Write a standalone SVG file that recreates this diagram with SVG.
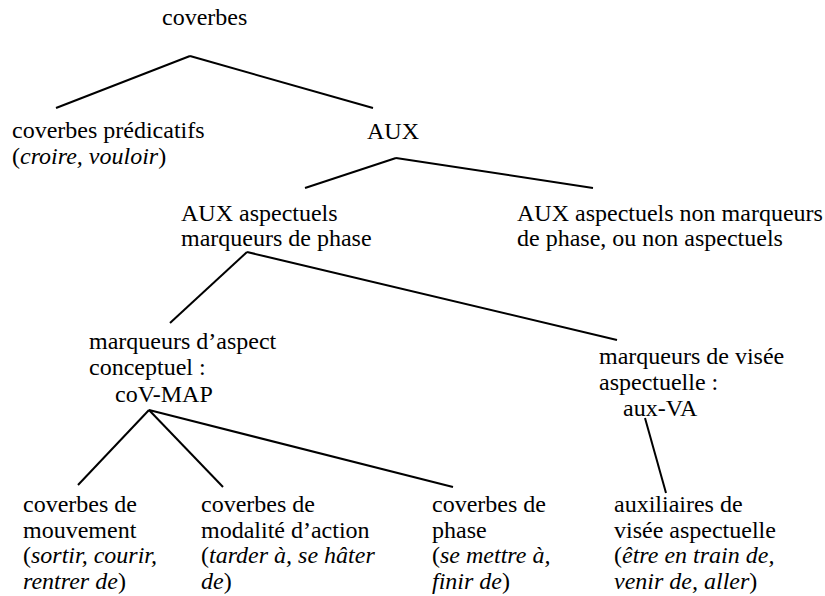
<svg xmlns="http://www.w3.org/2000/svg" width="825" height="596" viewBox="0 0 825 596" font-family="'Liberation Serif', 'Times New Roman', Times, serif">
<style>
text { font-family: "Liberation Serif", "Times New Roman", Times, serif; font-size: 24px; fill: #000; }
.i { font-style: italic; }
.edge { stroke: #000; stroke-width: 2; fill: none; }
</style>
<rect width="825" height="596" fill="#fff"/>
<g id="connectors">
<line class="edge" x1="190" y1="56" x2="56" y2="108"/>
<line class="edge" x1="190" y1="56" x2="373" y2="108"/>
<line class="edge" x1="396" y1="158" x2="305" y2="188"/>
<line class="edge" x1="396" y1="158" x2="593" y2="188"/>
<line class="edge" x1="247" y1="252" x2="170" y2="323"/>
<line class="edge" x1="247" y1="252" x2="617" y2="340"/>
<line class="edge" x1="149" y1="410" x2="78" y2="485"/>
<line class="edge" x1="149" y1="410" x2="223" y2="487"/>
<line class="edge" x1="149" y1="410" x2="453" y2="487"/>
<line class="edge" x1="645" y1="418" x2="666" y2="493"/>
</g>
<g id="n-coverbes"><text x="162" y="25">coverbes</text></g>
<g id="n-predicatifs">
<text x="12" y="138">coverbes prédicatifs</text>
<text x="12" y="164">(<tspan class="i">croire, vouloir</tspan>)</text>
</g>
<g id="n-aux"><text x="367" y="139">AUX</text></g>
<g id="n-aux-phase">
<text x="181" y="221">AUX aspectuels</text>
<text x="181" y="246">marqueurs de phase</text>
</g>
<g id="n-aux-nonphase">
<text x="517" y="221">AUX aspectuels non marqueurs</text>
<text x="517" y="246">de phase, ou non aspectuels</text>
</g>
<g id="n-covmap">
<text x="89" y="349">marqueurs d’aspect</text>
<text x="89" y="375">conceptuel :</text>
<text x="115" y="402">coV-MAP</text>
</g>
<g id="n-auxva">
<text x="599" y="364">marqueurs de visée</text>
<text x="599" y="390">aspectuelle :</text>
<text x="623" y="416">aux-VA</text>
</g>
<g id="n-mouvement">
<text x="23" y="512">coverbes de</text>
<text x="23" y="538">mouvement</text>
<text x="23" y="563">(<tspan class="i">sortir, courir,</tspan></text>
<text x="23" y="589"><tspan class="i">rentrer de</tspan>)</text>
</g>
<g id="n-modalite">
<text x="201" y="512">coverbes de</text>
<text x="201" y="538">modalité d’action</text>
<text x="201" y="563">(<tspan class="i">tarder à, se hâter</tspan></text>
<text x="201" y="589"><tspan class="i">de</tspan>)</text>
</g>
<g id="n-phase">
<text x="432" y="512">coverbes de</text>
<text x="432" y="538">phase</text>
<text x="432" y="563">(<tspan class="i">se mettre à,</tspan></text>
<text x="432" y="589"><tspan class="i">finir de</tspan>)</text>
</g>
<g id="n-visee">
<text x="614" y="512">auxiliaires de</text>
<text x="614" y="538">visée aspectuelle</text>
<text x="614" y="563">(<tspan class="i">être en train de,</tspan></text>
<text x="614" y="589"><tspan class="i">venir de, aller</tspan>)</text>
</g>
</svg>
